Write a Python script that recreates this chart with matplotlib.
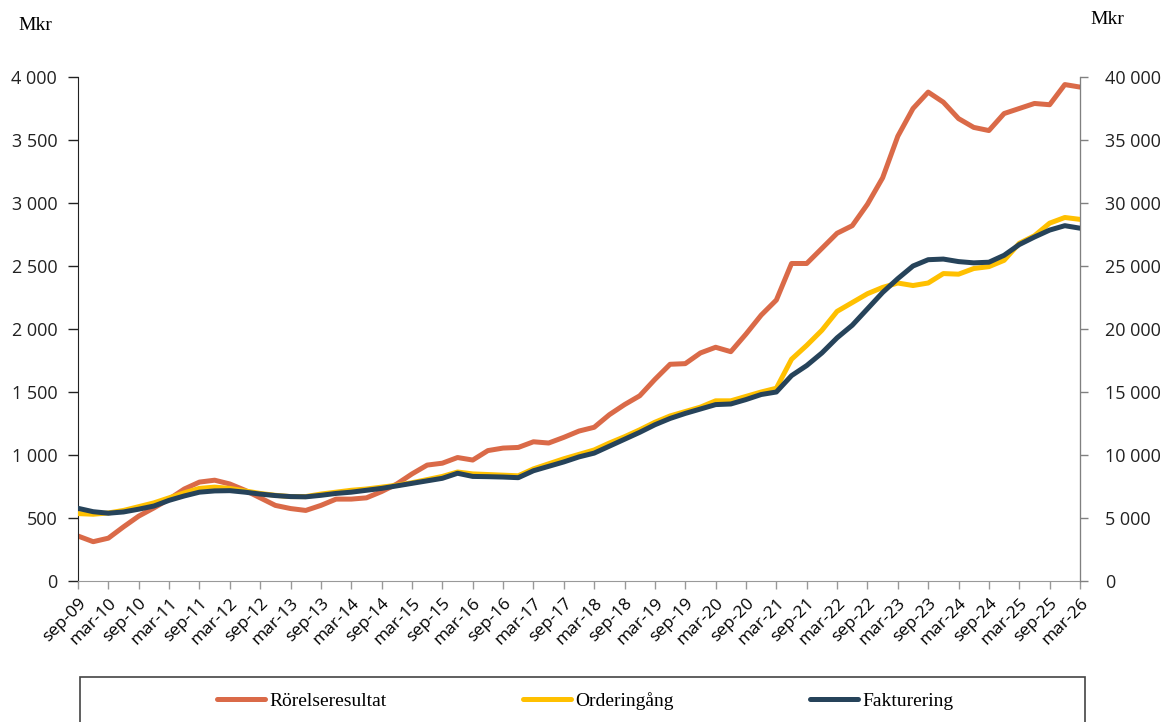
import numpy as np
import matplotlib.pyplot as plt
from matplotlib.patches import Rectangle
from matplotlib.ticker import FuncFormatter

# kvartalsdata sep-09 .. mar-26 (rullande 12 mån)
rorelseresultat = [357, 312, 340, 430, 515, 580, 650, 730, 785, 800,
                   770, 720, 660, 600, 575, 560, 600, 650, 650, 660,
                   710, 770, 850, 920, 935, 980, 960, 1035, 1055, 1060,
                   1105, 1095, 1140, 1190, 1220, 1320, 1400, 1470, 1600, 1720,
                   1725, 1810, 1855, 1820, 1960, 2110, 2230, 2520, 2520, 2640,
                   2760, 2820, 2990, 3200, 3530, 3750, 3880, 3800, 3670, 3600,
                   3575, 3710, 3750, 3790, 3780, 3940, 3920]
orderingang = [5350, 5300, 5400, 5600, 5900, 6200, 6600, 7000, 7350, 7450,
               7350, 7150, 6950, 6800, 6700, 6700, 6900, 7050, 7200, 7300,
               7450, 7600, 7800, 8050, 8300, 8650, 8500, 8450, 8400, 8350,
               8900, 9300, 9700, 10050, 10400, 10950, 11450, 12000, 12600, 13100,
               13450, 13800, 14300, 14300, 14650, 15000, 15300, 17600, 18700, 19900,
               21400, 22100, 22800, 23300, 23650, 23450, 23650, 24400, 24350, 24800,
               24950, 25450, 26800, 27400, 28400, 28850, 28700]
fakturering = [5770, 5500, 5380, 5480, 5700, 5950, 6400, 6750, 7050, 7150,
               7170, 7050, 6900, 6780, 6700, 6680, 6800, 6950, 7050, 7200,
               7350, 7550, 7750, 7950, 8150, 8550, 8300, 8280, 8250, 8200,
               8750, 9100, 9450, 9850, 10150, 10700, 11250, 11800, 12400, 12900,
               13300, 13650, 14000, 14050, 14400, 14800, 15000, 16300, 17100, 18100,
               19300, 20300, 21600, 22900, 24000, 25000, 25500, 25550, 25350, 25250,
               25300, 25850, 26700, 27300, 27850, 28200, 28000]

tick_labels = ['sep-09', 'mar-10', 'sep-10', 'mar-11', 'sep-11', 'mar-12',
               'sep-12', 'mar-13', 'sep-13', 'mar-14', 'sep-14', 'mar-15',
               'sep-15', 'mar-16', 'sep-16', 'mar-17', 'sep-17', 'mar-18',
               'sep-18', 'mar-19', 'sep-19', 'mar-20', 'sep-20', 'mar-21',
               'sep-21', 'mar-22', 'sep-22', 'mar-23', 'sep-23', 'mar-24',
               'sep-24', 'mar-25', 'sep-25', 'mar-26']

c_rr = '#DA6A48'
c_oi = '#FFC000'
c_fa = '#26435A'
tick_font = 'Open Sans'
slab_font = 'Liberation Serif'

x = np.arange(len(rorelseresultat))

fig = plt.figure(figsize=(11.69, 7.22), dpi=100)
ax = fig.add_axes([78 / 1169, 1 - 581 / 722, 1002 / 1169, 504 / 722])
ax2 = ax.twinx()

l1, = ax.plot(x, rorelseresultat, color=c_rr, lw=3.6, solid_joinstyle='round',
              solid_capstyle='round', label='Rörelseresultat')
l2, = ax2.plot(x, orderingang, color=c_oi, lw=3.6, solid_joinstyle='round',
               solid_capstyle='round', label='Orderingång')
l3, = ax2.plot(x, fakturering, color=c_fa, lw=3.6, solid_joinstyle='round',
               solid_capstyle='round', label='Fakturering')

ax.set_xlim(0, len(x) - 1)
ax.set_ylim(0, 4000)
ax2.set_ylim(0, 40000)
ax.set_yticks(np.arange(0, 4001, 500))
ax2.set_yticks(np.arange(0, 40001, 5000))

fmt = FuncFormatter(lambda v, p: f'{v:,.0f}'.replace(',', ' '))
ax.yaxis.set_major_formatter(fmt)
ax2.yaxis.set_major_formatter(fmt)

ax.set_xticks(x[::2])
ax.set_xticklabels(tick_labels, rotation=45, ha='right', rotation_mode='anchor',
                   fontfamily=tick_font, fontsize=12.5)

for a in (ax, ax2):
    a.spines['top'].set_visible(False)
    for lab in a.get_yticklabels():
        lab.set_fontfamily(tick_font)
        lab.set_fontsize(13)

ax.spines['left'].set_color('#222222')
ax.spines['bottom'].set_color('#999999')
ax2.spines['right'].set_color('#808080')
ax2.spines['left'].set_visible(False)
ax2.spines['bottom'].set_visible(False)

ax.tick_params(axis='y', direction='out', length=7, width=1, colors='#222222', pad=8)
ax.tick_params(axis='x', direction='out', length=6, width=1, color='#999999', pad=4)
ax2.tick_params(axis='y', direction='out', length=6, width=1, color='#808080',
                labelcolor='#222222', pad=12)

fig.text(18 / 1169, 1 - 25 / 722, 'Mkr', family=slab_font, fontsize=14, va='center')
fig.text(1090 / 1169, 1 - 20 / 722, 'Mkr', family=slab_font, fontsize=14, va='center')

# legendram som skärs av nedtill
fig.patches.append(Rectangle((80 / 1169, -0.05), 1005 / 1169, 0.05 + 45 / 722,
                             transform=fig.transFigure, fill=False,
                             edgecolor='#444444', lw=1.2))
fig.legend(handles=[l1, l2, l3], loc='center', ncol=3,
           bbox_to_anchor=(585 / 1169, 1 - 701 / 722), frameon=False,
           prop={'family': slab_font, 'size': 14}, handlelength=2.5,
           handletextpad=0.2, columnspacing=7.0)

fig.savefig('out.png', dpi=100)
